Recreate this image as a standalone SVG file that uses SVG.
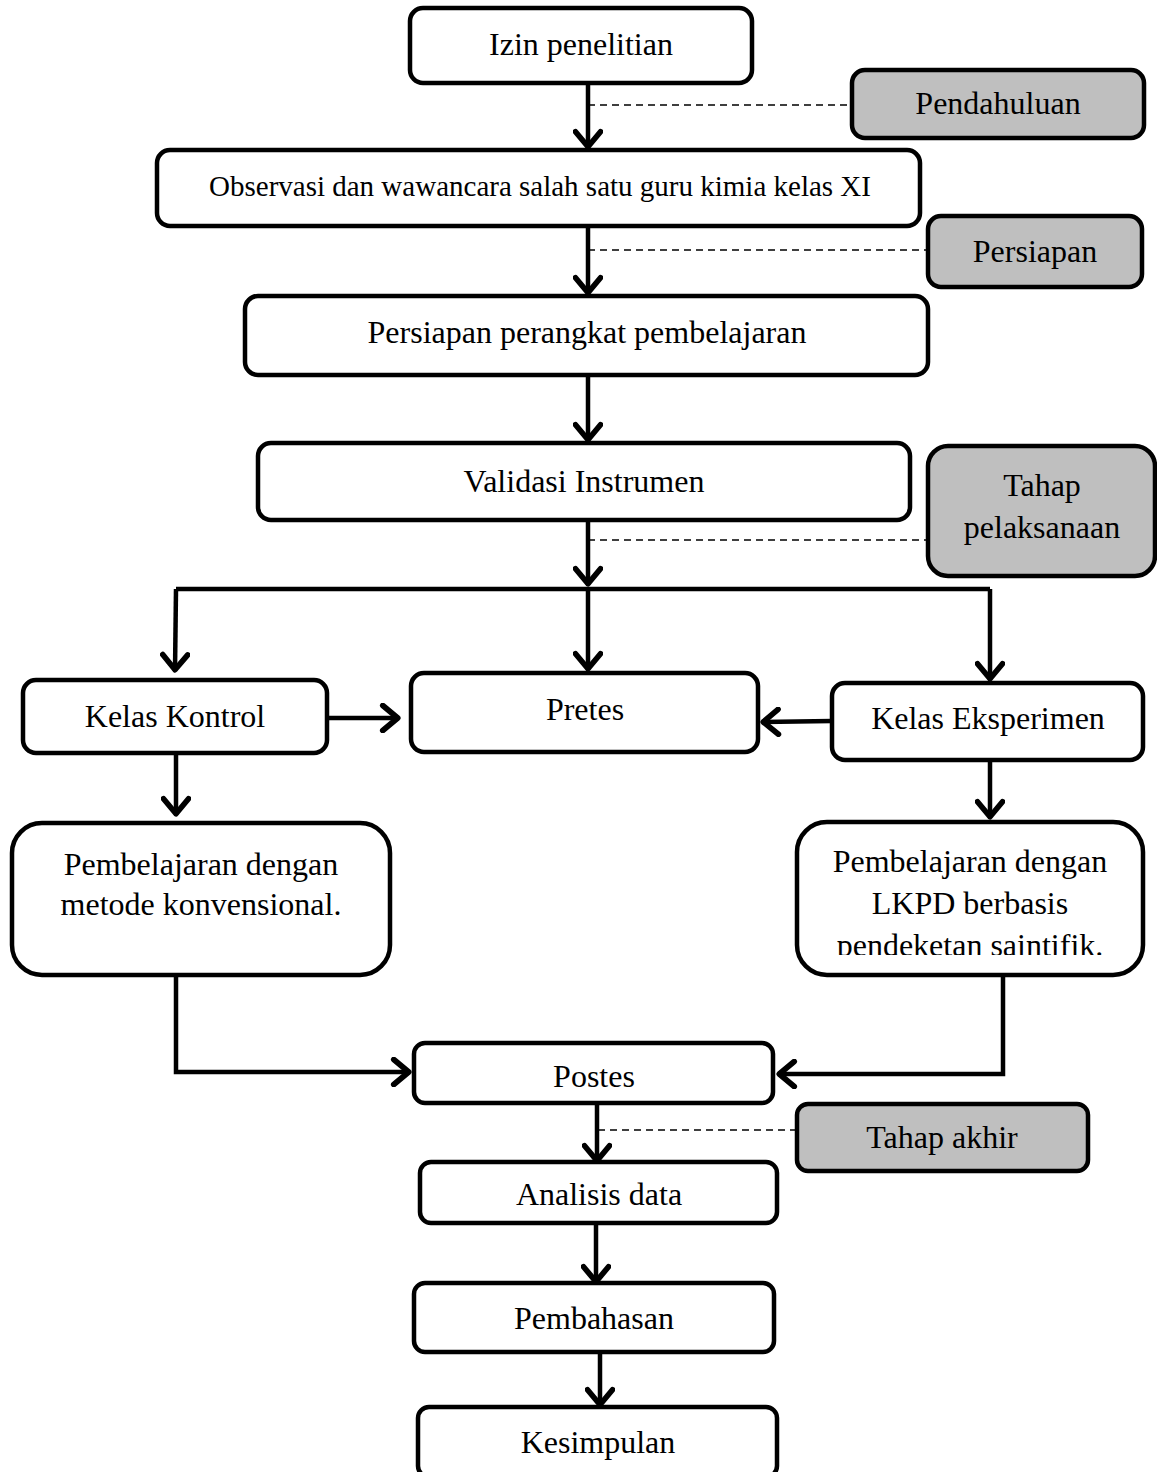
<svg xmlns="http://www.w3.org/2000/svg" width="1157" height="1472" viewBox="0 0 1157 1472">
<style>
.box{fill:#fff;stroke:#000;stroke-width:4.5}
.gray{fill:#bfbfbf;stroke:#000;stroke-width:4.5}
.t{font-family:"Liberation Serif","Times New Roman",serif;font-size:32px;fill:#000;text-anchor:middle}
.ts{font-size:29px}
.c{fill:none;stroke:#000;stroke-width:4.5}
.d{fill:none;stroke:#000;stroke-width:1.6;stroke-dasharray:7 5}
</style>
<defs>
<marker id="ah" markerUnits="userSpaceOnUse" markerWidth="30" markerHeight="30" refX="22" refY="12" orient="auto" viewBox="0 0 24 24">
<path d="M9 2 L21 12 L9 22" fill="none" stroke="#000" stroke-width="4.5" stroke-linecap="round" stroke-linejoin="round"/>
</marker>
<clipPath id="clipR"><rect x="797" y="822" width="346" height="133"/></clipPath>
</defs>

<g id="connectors">
<line class="c" x1="588" y1="83" x2="588" y2="148" marker-end="url(#ah)"/>
<line class="d" x1="588" y1="105" x2="852" y2="105"/>
<line class="c" x1="588" y1="226" x2="588" y2="294" marker-end="url(#ah)"/>
<line class="d" x1="588" y1="250" x2="928" y2="250"/>
<line class="c" x1="588" y1="375" x2="588" y2="441" marker-end="url(#ah)"/>
<line class="c" x1="588" y1="520" x2="588" y2="585" marker-end="url(#ah)"/>
<line class="d" x1="588" y1="540" x2="928" y2="540"/>
<path class="c" d="M176 589 L990 589"/>
<path class="c" d="M176 589 L175 671" marker-end="url(#ah)"/>
<line class="c" x1="588" y1="589" x2="588" y2="670" marker-end="url(#ah)"/>
<path class="c" d="M990 589 L990 680" marker-end="url(#ah)"/>
<line class="c" x1="327" y1="718" x2="399" y2="718" marker-end="url(#ah)"/>
<line class="c" x1="832" y1="721" x2="762" y2="722" marker-end="url(#ah)"/>
<line class="c" x1="176" y1="753" x2="176" y2="815" marker-end="url(#ah)"/>
<line class="c" x1="990" y1="760" x2="990" y2="818" marker-end="url(#ah)"/>
<path class="c" d="M176 975 L176 1072 L410 1072" marker-end="url(#ah)"/>
<path class="c" d="M1003 975 L1003 1074 L778 1074" marker-end="url(#ah)"/>
<line class="c" x1="597" y1="1103" x2="597" y2="1162" marker-end="url(#ah)"/>
<line class="d" x1="598" y1="1130" x2="797" y2="1130"/>
<line class="c" x1="596" y1="1223" x2="596" y2="1283" marker-end="url(#ah)"/>
<line class="c" x1="600" y1="1347" x2="600" y2="1406" marker-end="url(#ah)"/>
</g>

<g id="izin"><rect class="box" x="410" y="8" width="342" height="75" rx="13"/><text class="t" x="581" y="55">Izin penelitian</text></g>
<g id="pendahuluan"><rect class="gray" x="852" y="70" width="292" height="68" rx="13"/><text class="t" x="998" y="114">Pendahuluan</text></g>
<g id="observasi"><rect class="box" x="157" y="150" width="763" height="76" rx="13"/><text class="t ts" x="540" y="196">Observasi dan wawancara salah satu guru kimia kelas XI</text></g>
<g id="persiapan"><rect class="gray" x="928" y="216" width="214" height="71" rx="13"/><text class="t" x="1035" y="262">Persiapan</text></g>
<g id="perangkat"><rect class="box" x="245" y="296" width="683" height="79" rx="13"/><text class="t" x="587" y="343">Persiapan perangkat pembelajaran</text></g>
<g id="validasi"><rect class="box" x="258" y="443" width="652" height="77" rx="13"/><text class="t" x="584" y="492">Validasi Instrumen</text></g>
<g id="pelaksanaan"><rect class="gray" x="928" y="446" width="227" height="130" rx="20"/><text class="t" x="1042" y="496">Tahap</text><text class="t" x="1042" y="538">pelaksanaan</text></g>
<g id="kontrol"><rect class="box" x="23" y="680" width="304" height="73" rx="13"/><text class="t" x="175" y="727">Kelas Kontrol</text></g>
<g id="pretes"><rect class="box" x="411" y="673" width="347" height="79" rx="13"/><text class="t" x="585" y="720">Pretes</text></g>
<g id="eksperimen"><rect class="box" x="832" y="683" width="311" height="77" rx="13"/><text class="t" x="988" y="729">Kelas Eksperimen</text></g>
<g id="konvensional"><rect class="box" x="12" y="823" width="378" height="152" rx="30"/><text class="t" x="201" y="875">Pembelajaran dengan</text><text class="t" x="201" y="915">metode konvensional.</text></g>
<g id="saintifik"><rect class="box" x="797" y="822" width="346" height="153" rx="30"/><text class="t" x="970" y="872">Pembelajaran dengan</text><text class="t" x="970" y="914">LKPD berbasis</text><text class="t" x="970" y="956" clip-path="url(#clipR)">pendeketan saintifik.</text></g>
<g id="postes"><rect class="box" x="414" y="1043" width="359" height="60" rx="11"/><text class="t" x="594" y="1087">Postes</text></g>
<g id="akhir"><rect class="gray" x="797" y="1104" width="291" height="67" rx="11"/><text class="t" x="942" y="1148">Tahap akhir</text></g>
<g id="analisis"><rect class="box" x="420" y="1162" width="357" height="61" rx="11"/><text class="t" x="599" y="1205">Analisis data</text></g>
<g id="pembahasan"><rect class="box" x="414" y="1283" width="360" height="69" rx="11"/><text class="t" x="594" y="1329">Pembahasan</text></g>
<g id="kesimpulan"><rect class="box" x="418" y="1407" width="359" height="70" rx="11"/><text class="t" x="598" y="1453">Kesimpulan</text></g>
</svg>
